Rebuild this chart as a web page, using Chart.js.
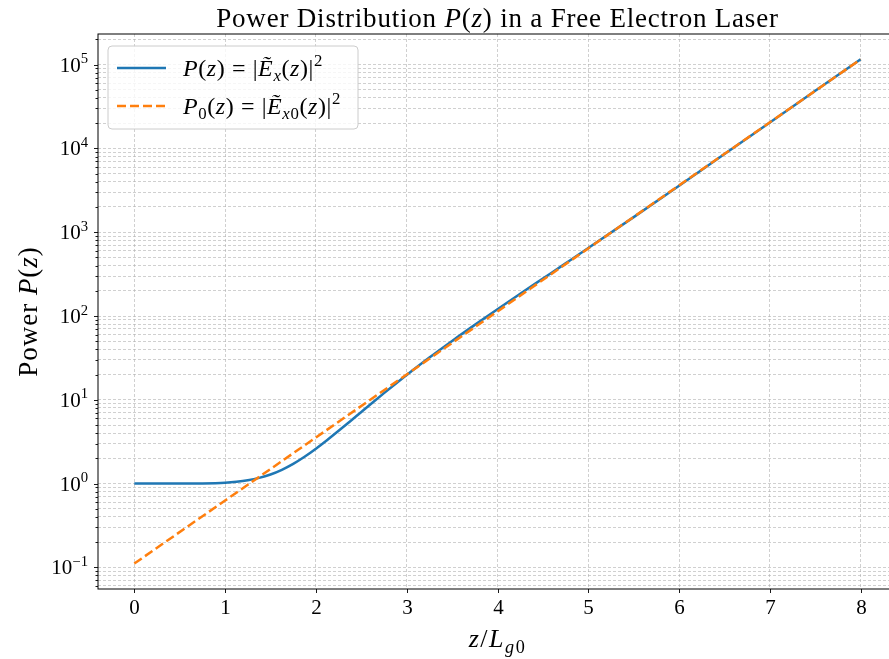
<!DOCTYPE html>
<html>
<head>
<meta charset="utf-8">
<script src="https://cdn.jsdelivr.net/npm/chart.js@4.4.1/dist/chart.umd.min.js"></script>
<style>
html, body { margin: 0; padding: 0; background: #fff; overflow: hidden; }
canvas { display: block; }
</style>
</head>
<body>
<canvas id="fel-chart" width="910" height="659"></canvas>
<script>
// z / L_g0 positions and power values
const zFull = [0, 0.25, 0.5, 0.75, 1, 1.125, 1.25, 1.375, 1.5, 1.625, 1.75, 1.875, 2, 2.125, 2.25, 2.375,
               2.5, 2.625, 2.75, 2.875, 3, 3.25, 3.5, 3.75, 4, 4.25, 4.5, 4.75, 5, 5.5, 6, 6.5, 7, 7.5, 8];
const powerFull = [1.000, 1.000, 1.0004, 1.0045, 1.025, 1.051, 1.095, 1.169, 1.285, 1.461, 1.719, 2.088,
                   2.604, 3.311, 4.261, 5.519, 7.164, 9.288, 12.00, 15.44, 19.77, 31.9, 50.4, 78.4, 120.6,
                   184.0, 279.7, 425.1, 647, 1514, 3588, 8560, 20420, 48660, 115900];
const zGrowth = [0, 1, 2, 3, 4, 5, 6, 7, 8];
const powerGrowth = [0.1111, 0.628, 3.550, 20.06, 113.4, 640.8, 3622, 20470, 115700];

const xTicks = [0, 1, 2, 3, 4, 5, 6, 7, 8];
const yDecades = [-1, 0, 1, 2, 3, 4, 5];

const SERIF = '"Liberation Serif", "DejaVu Serif", serif';
const BLUE = '#1f77b4';
const ORANGE = '#ff7f0e';

function toPoints(xs, ys) {
    return xs.map((x, i) => ({x: x, y: ys[i]}));
}

// all 1..9 x 10^n values for the log grid
function logTickValues() {
    const vals = [];
    for (let e = -2; e <= 5; e++) {
        for (let m = 1; m <= 9; m++) {
            vals.push(m * Math.pow(10, e));
        }
    }
    return vals;
}

function fontFor(p, size) {
    const s = (p.sub || p.sup) ? size * 0.7 : size;
    return (p.i ? 'italic ' : '') + s + 'px ' + SERIF;
}

function richWidth(ctx, parts, size) {
    let w = 0;
    parts.forEach(p => {
        ctx.font = fontFor(p, size);
        w += ctx.measureText(p.t).width;
    });
    return w;
}

// draw text made of pieces, some italic / sub / sup
function drawRich(ctx, parts, x, y, size, align, spacing) {
    ctx.letterSpacing = (spacing || 0) + 'px';
    const w = richWidth(ctx, parts, size);
    let cx = align === 'center' ? x - w / 2 : (align === 'right' ? x - w : x);
    ctx.textAlign = 'left';
    ctx.textBaseline = 'alphabetic';
    parts.forEach(p => {
        ctx.font = fontFor(p, size);
        const dy = p.sub ? size * 0.22 : (p.sup ? -size * 0.4 : 0);
        ctx.fillText(p.t, cx, y + dy);
        cx += ctx.measureText(p.t).width;
    });
    ctx.letterSpacing = '0px';
}

const titleParts = [{t: 'Power Distribution '}, {t: 'P', i: true}, {t: '('}, {t: 'z', i: true},
                    {t: ')'}, {t: ' in a Free Electron Laser'}];
const xLabelParts = [{t: 'z', i: true}, {t: '/'}, {t: 'L', i: true}, {t: 'g', i: true, sub: true}, {t: '0', sub: true}];
const yLabelParts = [{t: 'Power '}, {t: 'P', i: true}, {t: '('}, {t: 'z', i: true}, {t: ')'}];
const legendRows = [
    {color: BLUE, dash: [], parts: [{t: 'P', i: true}, {t: '('}, {t: 'z', i: true}, {t: ') = |'},
        {t: 'Ẽ', i: true}, {t: 'x', i: true, sub: true}, {t: '('}, {t: 'z', i: true}, {t: ')|'}, {t: '2', sup: true}]},
    {color: ORANGE, dash: [9, 4], parts: [{t: 'P', i: true}, {t: '0', sub: true}, {t: '('}, {t: 'z', i: true},
        {t: ') = |'}, {t: 'Ẽ', i: true}, {t: 'x', i: true, sub: true}, {t: '0', sub: true}, {t: '('},
        {t: 'z', i: true}, {t: ')|'}, {t: '2', sup: true}]}
];

const decoration = {
    id: 'decoration',
    afterDatasetsDraw(chart) {
        const ctx = chart.ctx;
        const area = chart.chartArea;
        const xs = chart.scales.x;
        const ys = chart.scales.y;
        ctx.save();

        // frame
        ctx.strokeStyle = '#000';
        ctx.lineWidth = 1;
        ctx.strokeRect(area.left, area.top, area.right - area.left, area.bottom - area.top);

        // x ticks and labels
        ctx.lineWidth = 0.9;
        ctx.fillStyle = '#000';
        xTicks.forEach(v => {
            const px = Math.round(xs.getPixelForValue(v)) + 0.5;
            ctx.beginPath();
            ctx.moveTo(px, area.bottom);
            ctx.lineTo(px, area.bottom + 4);
            ctx.stroke();
            drawRich(ctx, [{t: String(v)}], px, area.bottom + 25, 21, 'center');
        });

        // y ticks: major at decades, minor between
        logTickValues().forEach(v => {
            if (v < ys.min || v > ys.max) return;
            const py = Math.round(ys.getPixelForValue(v)) + 0.5;
            const major = Math.abs(Math.log10(v) - Math.round(Math.log10(v))) < 1e-9;
            ctx.beginPath();
            ctx.moveTo(area.left, py);
            ctx.lineTo(area.left - (major ? 4 : 2.5), py);
            ctx.stroke();
        });
        yDecades.forEach(e => {
            const py = ys.getPixelForValue(Math.pow(10, e));
            const exp = e < 0 ? '\u2212' + Math.abs(e) : String(e);
            drawRich(ctx, [{t: '10'}, {t: exp, sup: true}], area.left - 10, py + 7, 21, 'right');
        });

        // legend
        const lx = 108, ly = 46, lw = 250, lh = 83;
        ctx.beginPath();
        ctx.roundRect(lx, ly, lw, lh, 4);
        ctx.fillStyle = 'rgba(255,255,255,0.8)';
        ctx.fill();
        ctx.strokeStyle = '#cccccc';
        ctx.lineWidth = 1;
        ctx.stroke();
        legendRows.forEach((row, i) => {
            const ry = ly + 22 + i * 38;
            ctx.beginPath();
            ctx.setLineDash(row.dash);
            ctx.strokeStyle = row.color;
            ctx.lineWidth = 2.5;
            ctx.moveTo(117, ry);
            ctx.lineTo(166, ry);
            ctx.stroke();
            ctx.setLineDash([]);
            ctx.fillStyle = '#000';
            drawRich(ctx, row.parts, 183, ry + 8, 24, 'left', 0.6);
        });

        // title and axis labels
        ctx.fillStyle = '#000';
        drawRich(ctx, titleParts, (area.left + area.right) / 2, 27, 27, 'center', 0.8);
        drawRich(ctx, xLabelParts, (area.left + area.right) / 2, 647, 26, 'center', 1.5);
        ctx.save();
        ctx.translate(37, (area.top + area.bottom) / 2);
        ctx.rotate(-Math.PI / 2);
        drawRich(ctx, yLabelParts, 0, 0, 27, 'center', 1);
        ctx.restore();

        ctx.restore();
    }
};

const gridColor = 'rgba(176,176,176,0.75)';

new Chart(document.getElementById('fel-chart'), {
    type: 'line',
    data: {
        datasets: [
            {
                label: 'P(z)',
                data: toPoints(zFull, powerFull),
                borderColor: BLUE,
                borderWidth: 2.5,
                pointRadius: 0,
                cubicInterpolationMode: 'monotone',
                fill: false,
                order: 2
            },
            {
                label: 'P0(z)',
                data: toPoints(zGrowth, powerGrowth),
                borderColor: ORANGE,
                borderWidth: 2.5,
                borderDash: [9, 4],
                pointRadius: 0,
                tension: 0,
                fill: false,
                order: 1
            }
        ]
    },
    options: {
        responsive: false,
        animation: false,
        events: [],
        layout: {padding: {left: 98, top: 34, right: 13, bottom: 70}},
        plugins: {legend: {display: false}, title: {display: false}, tooltip: {enabled: false}},
        scales: {
            x: {
                type: 'linear',
                min: -0.4,
                max: 8.4,
                afterBuildTicks: scale => { scale.ticks = xTicks.map(v => ({value: v})); },
                ticks: {display: false},
                grid: {color: gridColor, lineWidth: 0.8, drawTicks: false},
                border: {display: false, dash: [3, 2]}
            },
            y: {
                type: 'logarithmic',
                min: 0.0552,
                max: 232000,
                afterBuildTicks: scale => {
                    scale.ticks = logTickValues().filter(v => v >= scale.min && v <= scale.max).map(v => ({value: v}));
                },
                ticks: {display: false, autoSkip: false},
                grid: {color: gridColor, lineWidth: 0.8, drawTicks: false},
                border: {display: false, dash: [3, 2]}
            }
        }
    },
    plugins: [decoration]
});
</script>
</body>
</html>
